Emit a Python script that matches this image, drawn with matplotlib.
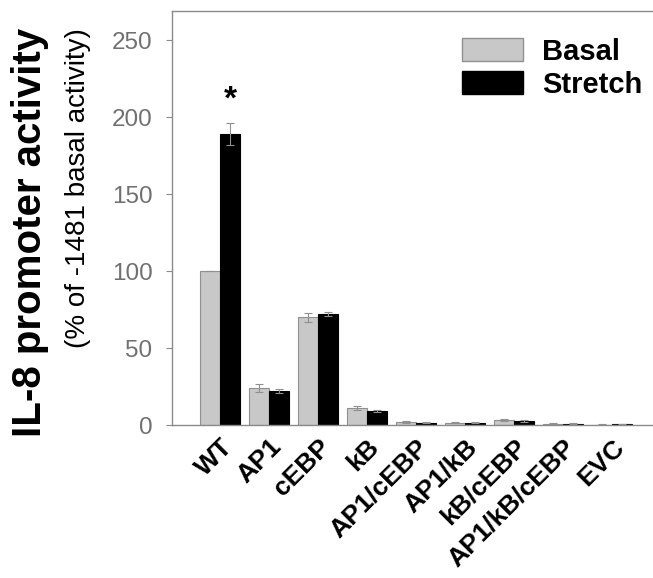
import numpy as np
import matplotlib
matplotlib.use("Agg")
import matplotlib.pyplot as plt
from matplotlib.patches import Patch

plt.rcParams['font.family'] = ['Liberation Sans', 'DejaVu Sans']

# datos
constructs = ["WT", "AP1", "cEBP", "kB", "AP1/cEBP", "AP1/kB", "kB/cEBP", "AP1/kB/cEBP", "EVC"]
basal = [100, 24, 70, 11, 2, 1.5, 3, 0.8, 0.3]
basal_err = [0, 2.5, 3, 1.5, 0.5, 0.4, 0.7, 0.3, 0.2]
stretch = [189, 22, 72, 9, 1.5, 1.5, 2.5, 0.8, 0.5]
stretch_err = [7, 1.5, 1.5, 0.8, 0.4, 0.4, 0.6, 0.3, 0.2]
yticks = [0, 50, 100, 150, 200, 250]

gray = "#c8c8c8"
axis_gray = "#8a8a8a"

fig = plt.figure(figsize=(6.53, 5.78), dpi=100)
ax = fig.add_axes([0.2634, 0.2647, 0.7366, 0.7163])

x = np.arange(len(constructs))
w = 0.41
ax.bar(x - w/2, basal, w, color=gray, edgecolor="#909090", linewidth=0.8,
       yerr=basal_err, error_kw=dict(ecolor="#909090", capsize=3, elinewidth=0.8, capthick=0.8))
ax.bar(x + w/2, stretch, w, color="black", edgecolor="black", linewidth=0.8,
       yerr=stretch_err, error_kw=dict(ecolor="#909090", capsize=3, elinewidth=0.8, capthick=0.8))

# asterisco de significancia
ax.text(x[0] + w/2, stretch[0] + 22, "*", ha="center", va="center",
        fontsize=24, fontweight="bold")

ax.set_xlim(-0.98, 8.84)
ax.set_ylim(0, 269)
ax.set_yticks(yticks)
ax.tick_params(axis="y", colors=axis_gray, labelcolor="#707070", labelsize=17.5,
               direction="out", length=4, width=0.8, pad=10)
ax.set_xticks(x)
ax.set_xticklabels(constructs, rotation=45, ha="right", rotation_mode="anchor",
                   fontsize=19, fontweight="bold")
ax.tick_params(axis="x", length=0, pad=7)

for s in ["left", "top", "bottom"]:
    ax.spines[s].set_color(axis_gray)
    ax.spines[s].set_linewidth(1.0)
ax.spines["right"].set_visible(False)

fig.text(0.046, 0.597, "IL-8 promoter activity", rotation=90, ha="center", va="center",
         fontsize=29, fontweight="bold")
fig.text(0.119, 0.675, "(% of -1481 basal activity)", rotation=90, ha="center",
         va="center", fontsize=20)

handles = [Patch(facecolor=gray, edgecolor="#909090", label="Basal"),
           Patch(facecolor="black", edgecolor="black", label="Stretch")]
ax.legend(handles=handles, loc="upper right", bbox_to_anchor=(1.02, 0.985), frameon=False,
          prop=dict(size=21, weight="bold"), handlelength=2.1, handleheight=0.8,
          handletextpad=0.65, labelspacing=0.17, borderaxespad=0.3)

fig.savefig("out.png", dpi=100)
